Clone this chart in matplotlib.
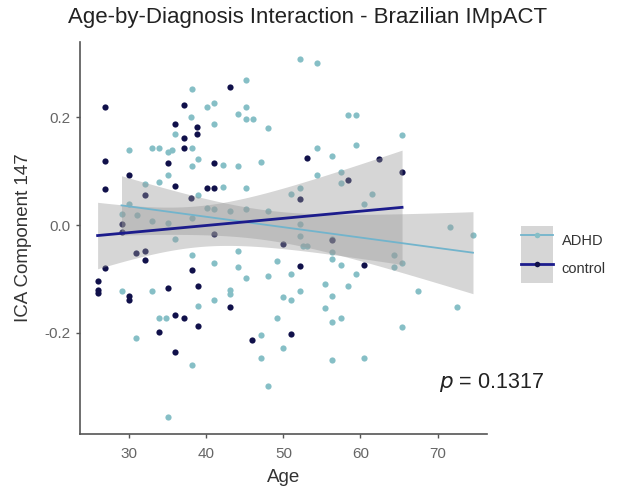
import numpy as np
import matplotlib
matplotlib.use("Agg")
from matplotlib import pyplot as plt
from matplotlib.patches import Patch
from matplotlib.lines import Line2D

plt.rcParams['font.family'] = ['Liberation Sans', 'DejaVu Sans']

# control group
ctrl_age = [26.9, 37.1, 36.0, 38.8, 38.8, 37.1, 37.1, 26.9, 35.0, 41.0,
            30.0, 36.0, 26.9, 40.1, 41.0, 32.1, 38.0, 29.0, 29.0, 43.1,
            53.1, 58.4, 52.1, 62.4, 65.4, 30.9, 32.1, 32.1, 26.9, 38.1,
            25.9, 25.9, 25.9, 30.0, 30.0, 35.0, 38.9, 36.0, 37.1, 38.9,
            33.8, 36.0, 50.0, 56.3, 52.2, 43.1, 45.9, 51.0, 60.5, 41.0]
ctrl_val = [0.219, 0.224, 0.187, 0.183, 0.169, 0.161, 0.143, 0.120, 0.115, 0.115,
            0.093, 0.072, 0.067, 0.069, 0.069, 0.056, 0.050, 0.002, -0.013, 0.256,
            0.124, 0.083, 0.048, 0.122, 0.098, -0.052, -0.048, -0.065, -0.080, -0.083,
            -0.104, -0.120, -0.126, -0.131, -0.139, -0.117, -0.113, -0.167, -0.172, -0.187,
            -0.198, -0.235, -0.035, -0.028, -0.076, -0.152, -0.213, -0.202, -0.074, -0.017]

# ADHD group
adhd_age = [38.1, 40.1, 41.0, 38.0, 41.0, 36.0, 30.0, 33.0, 33.8, 35.0,
            35.5, 38.1, 38.9, 38.1, 35.0, 33.8, 32.1, 38.9, 30.0, 29.0,
            31.0, 32.9, 35.0, 38.1, 40.1, 41.0, 36.0,
            52.1, 54.3, 45.2, 45.2, 44.1, 45.2, 46.1, 48.0, 58.4, 59.4,
            54.3, 56.3, 47.1, 44.1, 42.2, 54.3, 57.5, 57.5, 42.2, 45.2,
            52.2, 51.0, 43.1, 45.2, 48.0, 52.1, 56.3,
            65.4, 59.4, 61.5, 60.5, 71.6, 74.6,
            38.1, 41.0, 29.0, 33.0, 38.9, 41.0, 33.8, 34.8, 30.9, 38.1, 35.0,
            52.2, 52.5, 53.1, 56.3, 56.3, 57.5, 44.1, 49.2, 44.1, 45.2,
            48.0, 51.0, 59.4, 43.1, 43.1, 52.2, 55.4, 58.4, 56.3, 50.0,
            51.0, 55.4, 49.2, 57.5, 56.3, 47.1, 50.0, 47.1, 56.3, 48.0,
            64.4, 64.4, 65.4, 67.5, 72.5, 65.4, 60.5]
adhd_val = [0.252, 0.219, 0.226, 0.200, 0.187, 0.169, 0.140, 0.143, 0.143, 0.135,
            0.139, 0.143, 0.122, 0.109, 0.094, 0.081, 0.076, 0.056, 0.039, 0.020,
            0.019, 0.007, 0.004, 0.013, 0.031, 0.030, -0.026,
            0.309, 0.302, 0.270, 0.220, 0.207, 0.198, 0.198, 0.180, 0.204, 0.204,
            0.143, 0.128, 0.117, 0.109, 0.111, 0.094, 0.098, 0.078, 0.070, 0.069,
            0.069, 0.057, 0.026, 0.030, 0.026, 0.002, -0.026,
            0.167, 0.148, 0.057, 0.039, -0.004, -0.019,
            -0.056, -0.070, -0.122, -0.122, -0.150, -0.139, -0.172, -0.172, -0.209, -0.259, -0.356,
            -0.020, -0.039, -0.039, -0.050, -0.063, -0.074, -0.048, -0.067, -0.078, -0.098,
            -0.094, -0.091, -0.091, -0.120, -0.128, -0.122, -0.109, -0.113, -0.131, -0.133,
            -0.139, -0.154, -0.172, -0.172, -0.180, -0.204, -0.228, -0.246, -0.250, -0.298,
            -0.056, -0.078, -0.070, -0.122, -0.152, -0.189, -0.246]

p_value = 0.1317

adhd_pt = "#86bfc6"
adhd_ln = "#72b4cc"
ctrl_pt = "#10104a"
ctrl_ln = "#1c1c8c"
ribbon = "#999999"


def lm_band(x, y, t):
    # straight-line fit with 95% confidence band, like geom_smooth(method="lm")
    x = np.asarray(x)
    y = np.asarray(y)
    b, a = np.polyfit(x, y, 1)
    n = len(x)
    resid = y - (a + b * x)
    s = np.sqrt(np.sum(resid ** 2) / (n - 2))
    xs = np.linspace(x.min(), x.max(), 80)
    se = s * np.sqrt(1.0 / n + (xs - x.mean()) ** 2 / np.sum((x - x.mean()) ** 2))
    fit = a + b * xs
    return xs, fit, fit - t * se, fit + t * se


fig = plt.figure(figsize=(6.29, 4.95), dpi=100)
ax = fig.add_axes([0.127, 0.123, 0.647, 0.792])

ax.scatter(adhd_age, adhd_val, s=20, color=adhd_pt, linewidths=0, zorder=2)
ax.scatter(ctrl_age, ctrl_val, s=20, color=ctrl_pt, linewidths=0, zorder=2)

xs, fit, lo, hi = lm_band(adhd_age, adhd_val, 1.98)
ax.fill_between(xs, lo, hi, color=ribbon, alpha=0.4, linewidth=0, zorder=3)
ax.plot(xs, fit, color=adhd_ln, lw=1.3, zorder=4)

xs, fit, lo, hi = lm_band(ctrl_age, ctrl_val, 2.01)
ax.fill_between(xs, lo, hi, color=ribbon, alpha=0.4, linewidth=0, zorder=3)
ax.plot(xs, fit, color=ctrl_ln, lw=2.0, zorder=4)

ax.set_xlim(23.6, 76.4)
ax.set_ylim(-0.388, 0.34)
ax.set_xticks([30, 40, 50, 60, 70])
ax.set_yticks([-0.2, 0.0, 0.2])
ax.set_yticklabels(["-0.2", "0.0", "0.2"])

for side in ["top", "right"]:
    ax.spines[side].set_visible(False)
for side in ["left", "bottom"]:
    ax.spines[side].set_color("#555555")
    ax.spines[side].set_linewidth(1.2)
ax.tick_params(colors="#555555", labelcolor="#666666", labelsize=11,
               length=3, width=1)
ax.tick_params(axis="x", pad=6)

ax.set_xlabel("Age", fontsize=13.5, color="#333333", labelpad=6)
ax.set_ylabel("ICA Component 147", fontsize=13.5, color="#333333", labelpad=9)

fig.text(68 / 629, 1 - 18 / 495, "Age-by-Diagnosis Interaction - Brazilian IMpACT",
         fontsize=16, color="#222222", ha="left", va="center")

fig.text(491 / 629, 1 - 383 / 495, r"$p$ = " + str(p_value),
         fontsize=15.5, color="#222222", ha="center", va="center")

h_adhd = (Patch(facecolor=ribbon, alpha=0.4, edgecolor="none"),
          Line2D([], [], color=adhd_ln, lw=1.3, marker="o", markersize=4,
                 markerfacecolor=adhd_pt, markeredgewidth=0))
h_ctrl = (Patch(facecolor=ribbon, alpha=0.4, edgecolor="none"),
          Line2D([], [], color=ctrl_ln, lw=2.0, marker="o", markersize=4,
                 markerfacecolor=ctrl_pt, markeredgewidth=0))
fig.legend([h_adhd, h_ctrl], ["ADHD", "control"], loc="center left",
           bbox_to_anchor=(0.807, 0.486), frameon=False, fontsize=10.5,
           handlelength=2.2, handleheight=2.6, labelspacing=0.0,
           handletextpad=0.6, labelcolor="#333333")

fig.savefig("out.png", dpi=100)
